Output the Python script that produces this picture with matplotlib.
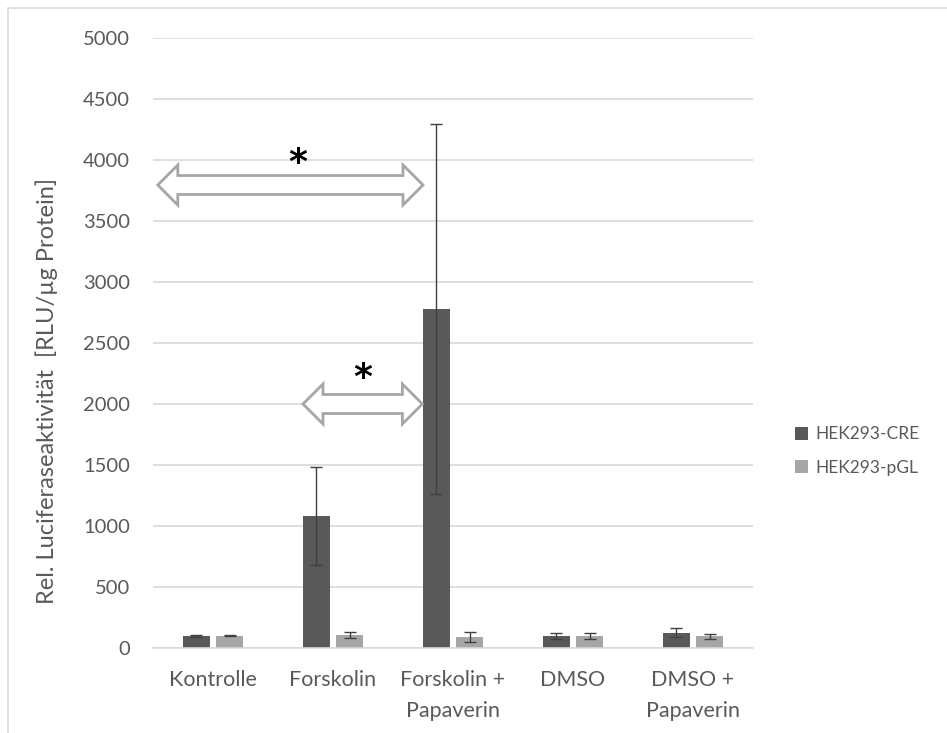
import numpy as np
import matplotlib.pyplot as plt
from matplotlib.patches import Polygon, Rectangle

plt.rcParams['font.family'] = ['Lato', 'DejaVu Sans']

categories = ['Kontrolle', 'Forskolin', 'Forskolin +\nPapaverin', 'DMSO', 'DMSO +\nPapaverin']
cre = [100, 1080, 2780, 95, 125]
cre_err = [8, 400, 1515, 25, 35]
pgl = [100, 110, 90, 95, 95]
pgl_err = [5, 25, 40, 25, 20]
series_names = ['HEK293-CRE', 'HEK293-pGL']

# significance arrows: (x start, x end, y), star at (x, y)
arrows = [(-0.46, 1.75, 3795), (0.75, 1.745, 2000)]
stars = [(0.71, 3975), (1.25, 2210)]

dark = '#595959'
light = '#a6a6a6'
grid = '#d9d9d9'
txt = '#595959'

fig = plt.figure(figsize=(9.47, 7.33), dpi=100)
ax = fig.add_axes([153 / 947, 1 - 648 / 733, 600 / 947, 610 / 733])

x = np.arange(len(categories))
w = 0.225
off = 0.14
ax.bar(x - off, cre, w, color=dark, label=series_names[0], zorder=2)
ax.bar(x + off, pgl, w, color=light, label=series_names[1], zorder=2)
ax.errorbar(x - off, cre, yerr=cre_err, fmt='none', ecolor='#404040',
            elinewidth=1, capsize=4.5, capthick=1, zorder=3)
ax.errorbar(x + off, pgl, yerr=pgl_err, fmt='none', ecolor='#404040',
            elinewidth=1, capsize=4.5, capthick=1, zorder=3)

ax.set_xlim(-0.5, len(categories) - 0.5)
ax.set_ylim(0, 5000)
ax.set_yticks(np.arange(0, 5001, 500))
ax.yaxis.grid(True, color=grid, linewidth=1.2)
ax.set_axisbelow(True)
for s in ['top', 'right', 'left']:
    ax.spines[s].set_visible(False)
ax.spines['bottom'].set_color(grid)
ax.spines['bottom'].set_linewidth(1.2)
ax.tick_params(length=0, colors=txt)
ax.tick_params(axis='y', pad=16.5, labelsize=14.5)
ax.tick_params(axis='x', pad=16, labelsize=15.5)
ax.set_xticks(x)
ax.set_xticklabels(categories, linespacing=1.7)
ax.set_ylabel('Rel. Luciferaseaktivität  [RLU/µg Protein]', color=txt, fontsize=17)
ax.yaxis.set_label_coords(-0.158, 0.421)

# hollow double-headed block arrows
px_x = 5 / 600      # data x per pixel
px_y = 5000 / 610   # data y per pixel
hl = 20 * px_x
hh = 20 * px_y
sh = 9.5 * px_y
for x0, x1, yc in arrows:
    pts = [(x0, yc), (x0 + hl, yc + hh), (x0 + hl, yc + sh), (x1 - hl, yc + sh),
           (x1 - hl, yc + hh), (x1, yc), (x1 - hl, yc - hh), (x1 - hl, yc - sh),
           (x0 + hl, yc - sh), (x0 + hl, yc - hh)]
    ax.add_patch(Polygon(pts, closed=True, facecolor='white', edgecolor=light,
                         linewidth=2, zorder=4))
for sx, sy in stars:
    ax.text(sx, sy, '*', fontsize=26, fontweight='bold', color='black',
            ha='center', va='center', family='DejaVu Sans', zorder=5)

leg = fig.legend(loc='center left', bbox_to_anchor=(779 / 947, 1 - 451 / 733),
                 frameon=False, fontsize=12.5, handlelength=0.75, handleheight=0.75,
                 handletextpad=0.45, labelspacing=1.0)
for t in leg.get_texts():
    t.set_color(txt)

# chart area border
fig.patches.append(Rectangle((8 / 947, -0.1), 1.1, 1 - 8 / 733 + 0.1,
                             transform=fig.transFigure, fill=False,
                             edgecolor=grid, linewidth=1.2))

fig.savefig('out.png', dpi=100)
